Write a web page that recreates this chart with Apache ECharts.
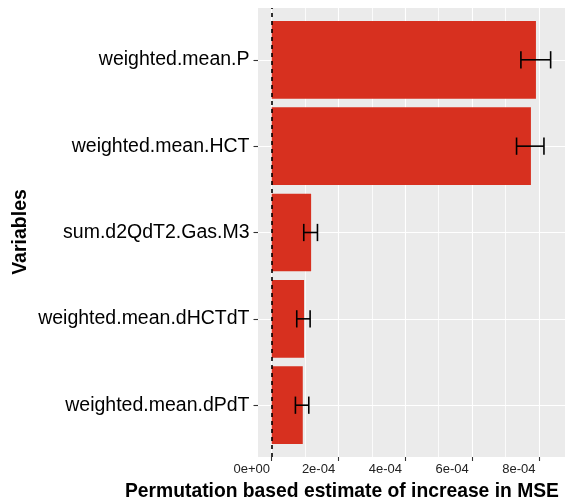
<!DOCTYPE html>
<html>
<head>
<meta charset="utf-8">
<script src="https://cdn.jsdelivr.net/npm/echarts@6/dist/echarts.min.js"></script>
<style>html,body{margin:0;padding:0;background:#fff;}#c{width:565px;height:502px;}</style>
</head>
<body>
<div id="c"></div>
<script>
// Data (top to bottom as shown)
const categories = ['weighted.mean.P', 'weighted.mean.HCT', 'sum.d2QdT2.Gas.M3', 'weighted.mean.dHCTdT', 'weighted.mean.dPdT'];
const values = [7.91e-4, 7.76e-4, 1.18e-4, 0.97e-4, 0.93e-4];
const errLow = [7.46e-4, 7.33e-4, 0.96e-4, 0.75e-4, 0.71e-4];
const errHigh = [8.35e-4, 8.15e-4, 1.37e-4, 1.15e-4, 1.11e-4];
const xTicks = [0, 2e-4, 4e-4, 6e-4, 8e-4];
const xTickLabels = ['0e+00', '2e-04', '4e-04', '6e-04', '8e-04'];
const xMinorTicks = [1e-4, 3e-4, 5e-4, 7e-4];
const xTitle = 'Permutation based estimate of increase in MSE';
const yTitle = 'Variables';

const n = categories.length;
const yPos = categories.map((c, i) => n - i);
const FONT = 'Liberation Sans, Arial, sans-serif';

const chart = echarts.init(document.getElementById('c'), null, {renderer: 'canvas'});
const option = {
  animation: false,
  backgroundColor: '#ffffff',
  grid: {left: 258, top: 8, right: 0, bottom: 45, show: true, backgroundColor: '#EBEBEB', borderWidth: 0},
  xAxis: [{
    type: 'value', min: -4.1e-5, max: 8.78e-4,
    axisLine: {show: false},
    axisTick: {show: true, length: 4, lineStyle: {color: '#333', width: 1.1}, customValues: xTicks},
    axisLabel: {show: true, customValues: xTicks, margin: 6, fontSize: 13, fontFamily: FONT, color: '#222',
      padding: [0, 40, 0, 0],
      formatter: v => { const k = xTicks.findIndex(t => Math.abs(t - v) < 1e-9); return k >= 0 ? xTickLabels[k] : ''; }},
    splitLine: {show: true, lineStyle: {color: '#ffffff', width: 1.1}}
  }, {
    type: 'value', min: -4.1e-5, max: 8.78e-4, position: 'top',
    axisLine: {show: false},
    axisTick: {show: false, customValues: xMinorTicks},
    axisLabel: {show: false, customValues: xMinorTicks},
    splitLine: {show: true, lineStyle: {color: '#ffffff', width: 0.8}}
  }],
  yAxis: {
    type: 'value', min: 0.4, max: 5.6,
    axisLine: {show: false, onZero: false},
    axisTick: {show: true, length: 4.5, lineStyle: {color: '#333', width: 1.1}, customValues: yPos},
    axisLabel: {show: true, customValues: yPos, margin: 8.5, fontSize: 19.5, fontFamily: FONT, color: '#000',
      formatter: v => categories[n - Math.round(v)] || ''},
    splitLine: {show: true, lineStyle: {color: '#ffffff', width: 1.1}}
  },
  title: {
    text: xTitle, left: 120, top: 477,
    textStyle: {fontSize: 19.3, fontWeight: 'bold', fontFamily: FONT, color: '#000'}
  },
  graphic: [{
    type: 'text', x: 21, y: 232, rotation: Math.PI / 2,
    style: {text: yTitle, align: 'center', verticalAlign: 'middle', font: 'bold 19.5px ' + FONT, fill: '#000'}
  }],
  series: [{
    type: 'custom', name: 'bars', z: 2,
    data: values.map((v, i) => [v, yPos[i]]),
    encode: {x: 0, y: 1},
    renderItem: (params, api) => {
      const p0 = api.coord([0, api.value(1)]);
      const p1 = api.coord([api.value(0), api.value(1)]);
      const h = api.size([0, 0.9])[1];
      return {type: 'rect', shape: {x: p0[0], y: p0[1] - h / 2, width: p1[0] - p0[0], height: h},
        style: {fill: '#D7301F'}};
    },
    markLine: {
      silent: true, symbol: ['none', 'none'], label: {show: false}, z: 3,
      lineStyle: {color: '#000', type: [4, 4], width: 1.6},
      data: [{xAxis: 0}]
    }
  }, {
    type: 'custom', name: 'err', z: 4,
    data: values.map((v, i) => [errLow[i], errHigh[i], yPos[i]]),
    encode: {x: [0, 1], y: 2},
    renderItem: (params, api) => {
      const a = api.coord([api.value(0), api.value(2)]);
      const b = api.coord([api.value(1), api.value(2)]);
      const w = api.size([0, 0.2])[1] / 2;
      const st = {stroke: '#000', lineWidth: 1.6};
      return {type: 'group', children: [
        {type: 'line', shape: {x1: a[0], y1: a[1], x2: b[0], y2: b[1]}, style: st},
        {type: 'line', shape: {x1: a[0], y1: a[1] - w, x2: a[0], y2: a[1] + w}, style: st},
        {type: 'line', shape: {x1: b[0], y1: b[1] - w, x2: b[0], y2: b[1] + w}, style: st}
      ]};
    }
  }]
};
chart.setOption(option);
</script>
</body>
</html>
